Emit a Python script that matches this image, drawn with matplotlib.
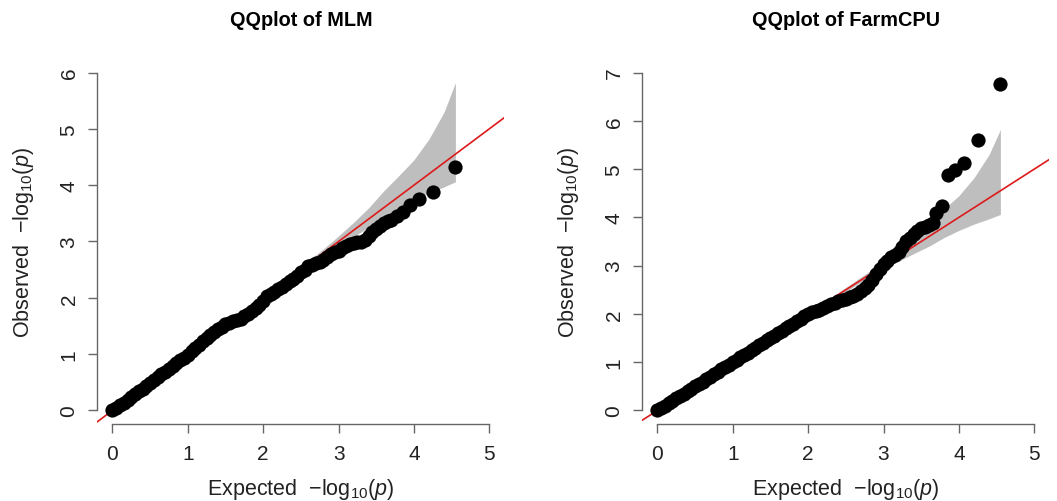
import matplotlib
matplotlib.use('Agg')
import matplotlib.pyplot as plt

plt.rcParams['font.family'] = ['Liberation Sans', 'DejaVu Sans']
plt.rcParams['mathtext.fontset'] = 'custom'
plt.rcParams['mathtext.rm'] = 'Liberation Sans'
plt.rcParams['mathtext.it'] = 'Liberation Sans:italic'

# expected / observed -log10(p)
mlm_expected = [0.00, 0.05, 0.10, 0.15, 0.20, 0.25, 0.30, 0.35, 0.40, 0.45,
                0.50, 0.55, 0.60, 0.65, 0.70, 0.75, 0.80, 0.85, 0.90, 0.95,
                1.00, 1.05, 1.10, 1.15, 1.20, 1.25, 1.30, 1.35, 1.40, 1.45,
                1.50, 1.55, 1.60, 1.65, 1.70, 1.75, 1.80, 1.85, 1.90, 1.95,
                2.00, 2.05, 2.10, 2.15, 2.20, 2.25, 2.30, 2.35, 2.40, 2.45,
                2.50, 2.55, 2.60, 2.65, 2.70, 2.75, 2.80, 2.85, 2.90, 2.95,
                3.00, 3.05, 3.10, 3.15, 3.20, 3.25, 3.30, 3.35, 3.40, 3.45,
                3.50, 3.55, 3.60, 3.65, 3.70, 3.77, 3.85, 3.95, 4.07, 4.25, 4.55]
mlm_observed = [0.00, 0.04, 0.09, 0.14, 0.19, 0.24, 0.29, 0.34, 0.39, 0.44,
                0.49, 0.54, 0.59, 0.64, 0.69, 0.74, 0.79, 0.84, 0.89, 0.94,
                0.99, 1.05, 1.11, 1.17, 1.23, 1.29, 1.34, 1.39, 1.44, 1.49,
                1.53, 1.56, 1.58, 1.60, 1.63, 1.67, 1.71, 1.76, 1.82, 1.88,
                1.95, 2.03, 2.07, 2.11, 2.15, 2.19, 2.24, 2.29, 2.34, 2.39,
                2.45, 2.50, 2.57, 2.59, 2.61, 2.64, 2.68, 2.73, 2.78, 2.81,
                2.84, 2.88, 2.92, 2.95, 2.98, 2.99, 2.99, 3.02, 3.10, 3.17,
                3.23, 3.28, 3.32, 3.36, 3.38, 3.46, 3.53, 3.65, 3.75, 3.87, 4.33]

farm_expected = [0.00, 0.05, 0.10, 0.15, 0.20, 0.25, 0.30, 0.35, 0.40, 0.45,
                 0.50, 0.55, 0.60, 0.65, 0.70, 0.75, 0.80, 0.85, 0.90, 0.95,
                 1.00, 1.05, 1.10, 1.15, 1.20, 1.25, 1.30, 1.35, 1.40, 1.45,
                 1.50, 1.55, 1.60, 1.65, 1.70, 1.75, 1.80, 1.85, 1.90, 1.95,
                 2.00, 2.05, 2.10, 2.15, 2.20, 2.25, 2.30, 2.35, 2.40, 2.45,
                 2.50, 2.55, 2.60, 2.65, 2.70, 2.75, 2.80, 2.85, 2.90, 2.95,
                 3.00, 3.05, 3.10, 3.15, 3.20, 3.25, 3.30, 3.35, 3.40, 3.45,
                 3.50, 3.55, 3.60, 3.65, 3.70, 3.77, 3.85, 3.95, 4.07, 4.25, 4.55]
farm_observed = [0.00, 0.05, 0.10, 0.15, 0.20, 0.25, 0.30, 0.35, 0.40, 0.45,
                 0.50, 0.55, 0.60, 0.65, 0.70, 0.75, 0.80, 0.85, 0.90, 0.95,
                 1.00, 1.05, 1.10, 1.15, 1.20, 1.25, 1.30, 1.35, 1.40, 1.45,
                 1.50, 1.55, 1.60, 1.65, 1.70, 1.75, 1.80, 1.85, 1.90, 1.95,
                 2.00, 2.03, 2.06, 2.09, 2.12, 2.16, 2.20, 2.23, 2.26, 2.29,
                 2.31, 2.34, 2.38, 2.42, 2.47, 2.53, 2.60, 2.70, 2.82, 2.93,
                 3.03, 3.10, 3.17, 3.22, 3.29, 3.38, 3.50, 3.58, 3.65, 3.71,
                 3.77, 3.81, 3.85, 3.89, 4.09, 4.23, 4.88, 4.98, 5.13, 5.61, 6.77]

# 95% confidence band
band_x = [0.0, 1.0, 2.0, 2.5, 2.8, 3.0, 3.2, 3.4, 3.6, 3.8, 4.0, 4.2, 4.4, 4.55]
band_upper = [0.0, 1.0, 2.02, 2.55, 2.87, 3.10, 3.34, 3.60, 3.90, 4.17, 4.45, 4.82, 5.30, 5.82]
band_lower = [0.0, 1.0, 1.98, 2.46, 2.76, 2.96, 3.09, 3.25, 3.40, 3.58, 3.73, 3.86, 3.97, 4.06]

panels = [
    ('QQplot of MLM', mlm_expected, mlm_observed, [0, 1, 2, 3, 4, 5, 6]),
    ('QQplot of FarmCPU', farm_expected, farm_observed, [0, 1, 2, 3, 4, 5, 6, 7]),
]
x_ticks = [0, 1, 2, 3, 4, 5]

fig = plt.figure(figsize=(10.57, 5.02), dpi=100)
lefts = [0.0921, 0.6077]
axis_col = '#666666'
text_col = '#222222'

for left, (title, ex, ob, y_ticks) in zip(lefts, panels):
    ax = fig.add_axes([left, 0.1534, 0.3851, 0.7271])
    xpad = 0.04 * (x_ticks[-1] - x_ticks[0])
    ypad = 0.04 * (y_ticks[-1] - y_ticks[0])
    ax.set_xlim(x_ticks[0] - xpad, x_ticks[-1] + xpad)
    ax.set_ylim(y_ticks[0] - ypad, y_ticks[-1] + ypad)

    ax.fill_between(band_x, band_lower, band_upper, color='#bebebe', lw=0, zorder=1)
    ax.axline((0, 0), slope=1, color='#dd1a1a', lw=1.2, zorder=2)
    ax.scatter(ex, ob, s=105, color='black', linewidths=0, zorder=3, clip_on=False)

    for side in ['top', 'right']:
        ax.spines[side].set_visible(False)
    ax.spines['left'].set_bounds(y_ticks[0], y_ticks[-1])
    ax.spines['bottom'].set_bounds(x_ticks[0], x_ticks[-1])
    for side in ['left', 'bottom']:
        ax.spines[side].set_color(axis_col)
        ax.spines[side].set_linewidth(1.0)

    ax.set_xticks(x_ticks)
    ax.set_yticks(y_ticks)
    ax.tick_params(length=6.5, width=1.0, color=axis_col, labelcolor=text_col,
                   labelsize=15, pad=8)
    ax.tick_params(axis='y', labelrotation=90, pad=7)
    for lab in ax.get_yticklabels():
        lab.set_verticalalignment('center')

    ax.set_xlabel(r'Expected  $-$log$_{10}$($p$)', fontsize=15.5, color=text_col)
    ax.set_ylabel(r'Observed  $-$log$_{10}$($p$)', fontsize=15.5, color=text_col)
    ax.xaxis.set_label_coords(0.5, -0.178)
    ax.xaxis.label.set_verticalalignment('center')
    ax.yaxis.set_label_coords(-0.182, 0.5)
    ax.yaxis.label.set_verticalalignment('center')

    ax.text(0.5, 1.107, title, transform=ax.transAxes, ha='center', va='center',
            fontsize=14.3, fontweight='bold', color='black')

fig.savefig('out.png', dpi=100)
